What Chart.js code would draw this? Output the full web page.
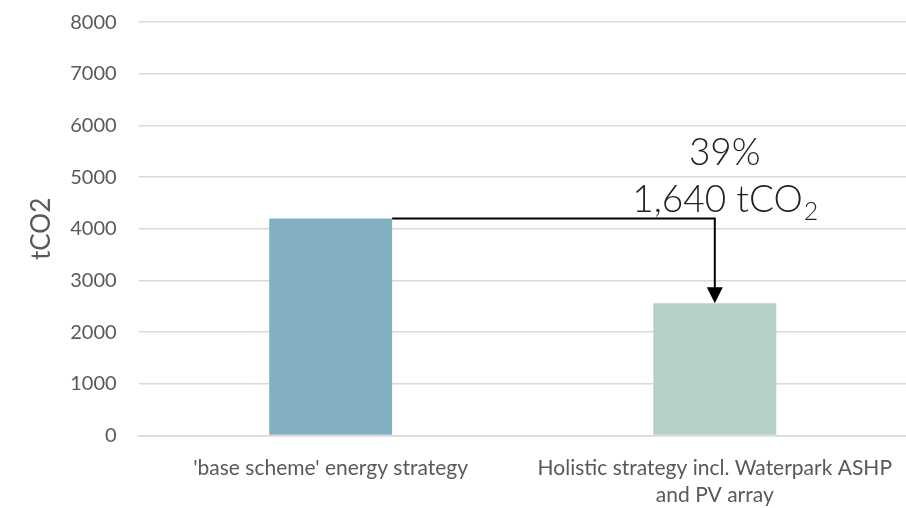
<!DOCTYPE html>
<html>
<head>
<meta charset="utf-8">
<script src="https://cdn.jsdelivr.net/npm/chart.js@4/dist/chart.umd.min.js"></script>
<style>
  html, body { margin: 0; padding: 0; background: #fff; overflow: hidden; }
  #wrap { width: 906px; height: 508px; overflow: hidden; }
</style>
</head>
<body>
<div id="wrap"><canvas id="co2Chart" width="911" height="508"></canvas></div>
<script>
// Annual carbon for each strategy
const categories = [
    ["'base scheme' energy strategy"],
    ["Holistic strategy incl. Waterpark ASHP", "and PV array"]
];
const emissions = [4200, 2560];
const barColors = ["#82B0C0", "#B5D1C5"];
const yTicks = [0, 1000, 2000, 3000, 4000, 5000, 6000, 7000, 8000];

const saving = emissions[0] - emissions[1];
const savingPct = Math.round(saving / emissions[0] * 100);

// Step arrow from the first bar down to the second, with the saving written above
const savingArrow = {
    id: 'savingArrow',
    afterDatasetsDraw(chart) {
        const ctx = chart.ctx;
        const bars = chart.getDatasetMeta(0).data;
        const y = chart.scales.y;
        const x0 = bars[0].x + bars[0].width / 2;
        const y0 = y.getPixelForValue(emissions[0]);
        const x1 = bars[1].x;
        const y1 = y.getPixelForValue(emissions[1]);

        ctx.save();
        ctx.strokeStyle = '#000';
        ctx.lineWidth = 2;
        ctx.beginPath();
        ctx.moveTo(x0, y0);
        ctx.lineTo(x1, y0);
        ctx.lineTo(x1, y1 - 14);
        ctx.stroke();
        ctx.fillStyle = '#000';
        ctx.beginPath();
        ctx.moveTo(x1 - 8, y1 - 16);
        ctx.lineTo(x1 + 8, y1 - 16);
        ctx.lineTo(x1, y1);
        ctx.closePath();
        ctx.fill();

        // labels
        const big = '300 37px Lato';
        const small = '300 25px Lato';
        ctx.fillStyle = '#222';
        ctx.textBaseline = 'alphabetic';
        ctx.font = big;
        ctx.textAlign = 'center';
        const cx = x1 + 10;
        ctx.fillText(savingPct + '%', cx, y0 - 54);

        const main = saving.toLocaleString('en-GB') + ' tCO';
        const w1 = ctx.measureText(main).width;
        ctx.font = small;
        const w2 = ctx.measureText('2').width;
        const left = cx - (w1 + w2) / 2;
        ctx.font = big;
        ctx.textAlign = 'left';
        ctx.fillText(main, left, y0 - 7);
        ctx.font = small;
        ctx.fillText('2', left + w1 + 1, y0 + 1);
        ctx.restore();
    }
};

const ctx = document.getElementById('co2Chart').getContext('2d');
new Chart(ctx, {
    type: 'bar',
    data: {
        labels: categories,
        datasets: [{
            data: emissions,
            backgroundColor: barColors,
            barPercentage: 0.32,
            categoryPercentage: 1.0
        }]
    },
    options: {
        responsive: false,
        animation: false,
        layout: { padding: { top: -9, right: 0, left: 26, bottom: -20 } },
        plugins: {
            legend: { display: false },
            tooltip: { enabled: false }
        },
        scales: {
            x: {
                grid: { display: false, drawTicks: false },
                border: { color: '#D9D9D9', width: 1.5 },
                ticks: {
                    color: '#595959',
                    font: { family: 'Lato', size: 21, lineHeight: 1.295 },
                    padding: 19,
                    maxRotation: 0
                }
            },
            y: {
                min: 0,
                max: 8000,
                afterBuildTicks(axis) {
                    axis.ticks = yTicks.map(v => ({ value: v }));
                },
                grid: { color: '#D9D9D9', lineWidth: 1.5, drawTicks: false },
                border: { display: false },
                ticks: {
                    color: '#595959',
                    font: { family: 'Lato', size: 20, lineHeight: 0.01 },
                    padding: 22,
                    callback: v => String(v)
                },
                title: {
                    display: true,
                    text: 'tCO2',
                    color: '#595959',
                    font: { family: 'Lato', size: 26 },
                    padding: { top: 0, bottom: -9 }
                }
            }
        }
    },
    plugins: [savingArrow]
});
</script>
</body>
</html>
